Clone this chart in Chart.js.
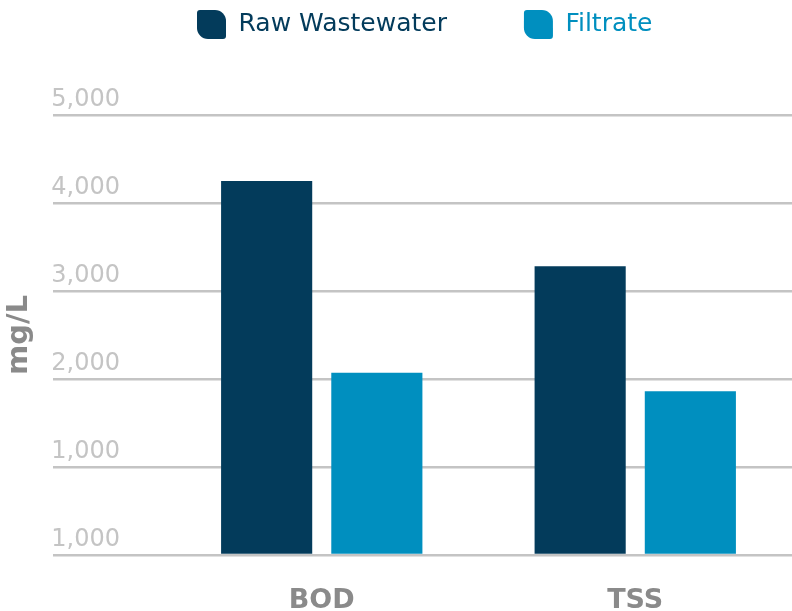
<!DOCTYPE html>
<html lang="en">
<head>
  <meta charset="UTF-8">
  <title>BOD / TSS - mg/L</title>
  <script src="https://cdn.jsdelivr.net/npm/chart.js"></script>
  <style>
    body { margin: 0; background: #fff; }
    #wrap { width: 792px; height: 611px; }
  </style>
</head>
<body>
  <div id="wrap"><canvas id="chart"></canvas></div>

  <script>
    // data
    const categories = ['BOD', 'TSS'];
    const rawWastewater = [4250, 3280];
    const filtrate = [2070, 1860];
    const yTickLabels = ['1,000', '1,000', '2,000', '3,000', '4,000', '5,000'];

    const navy = '#033b5b';
    const blue = '#008fbf';
    const gridGrey = '#c4c4c4';
    const darkGrey = '#8a8a8a';
    const legendGap = 77;
    const legendStart = 197;

    // legend: big gap between items, boxes near the top, first box at legendStart
    const legendFit = {
      id: 'legendFit',
      beforeInit(chart) {
        const fit = chart.legend.fit;
        chart.legend.fit = function () {
          fit.bind(chart.legend)();
          this.lineWidths = [legendGap + this.width - 2 * legendStart];
          this.height = 115 + 67;
        };
      }
    };

    new Chart(document.getElementById('chart'), {
      type: 'bar',
      data: {
        labels: categories,
        datasets: [
          { label: 'Raw Wastewater', data: rawWastewater, backgroundColor: navy },
          { label: 'Filtrate', data: filtrate, backgroundColor: blue }
        ]
      },
      options: {
        responsive: true,
        maintainAspectRatio: false,
        animation: false,
        layout: { padding: { top: -67, left: 0, right: 0, bottom: 0 } },
        datasets: { bar: { categoryPercentage: 0.703, barPercentage: 0.827 } },
        plugins: {
          tooltip: { enabled: false },
          legend: {
            position: 'top',
            labels: {
              boxWidth: 29,
              boxHeight: 29,
              padding: legendGap,
              useBorderRadius: true,
              font: { family: 'DejaVu Sans', size: 25 },
              generateLabels(chart) {
                return chart.data.datasets.map((ds, i) => ({
                  text: ds.label,
                  fillStyle: ds.backgroundColor,
                  strokeStyle: ds.backgroundColor,
                  lineWidth: 0,
                  fontColor: ds.backgroundColor,
                  borderRadius: { topLeft: 3, topRight: 11, bottomLeft: 11, bottomRight: 3 },
                  hidden: false,
                  datasetIndex: i
                }));
              }
            }
          }
        },
        scales: {
          x: {
            grid: { display: false },
            border: { display: false },
            ticks: {
              color: darkGrey,
              padding: 22,
              font: { family: 'DejaVu Sans', size: 27, weight: 'bold' }
            },
            afterFit(scale) { scale.height = 56; }
          },
          y: {
            min: 0,
            max: 5000,
            border: { display: false },
            grid: {
              color: gridGrey,
              lineWidth: 2.5,
              drawTicks: true,
              tickLength: 112,
              tickColor: gridGrey,
              tickWidth: 2.5
            },
            ticks: {
              stepSize: 1000,
              padding: -67,
              labelOffset: -15,
              color: gridGrey,
              font: { family: 'DejaVu Sans', size: 24 },
              callback: (value, index) => yTickLabels[index]
            },
            title: {
              display: true,
              text: 'mg/L',
              color: darkGrey,
              padding: { top: 2, bottom: 0 },
              font: { family: 'DejaVu Sans', size: 29, weight: 'bold' }
            },
            afterFit(scale) { scale.width = 165; }
          }
        }
      },
      plugins: [legendFit]
    });
  </script>
</body>
</html>
